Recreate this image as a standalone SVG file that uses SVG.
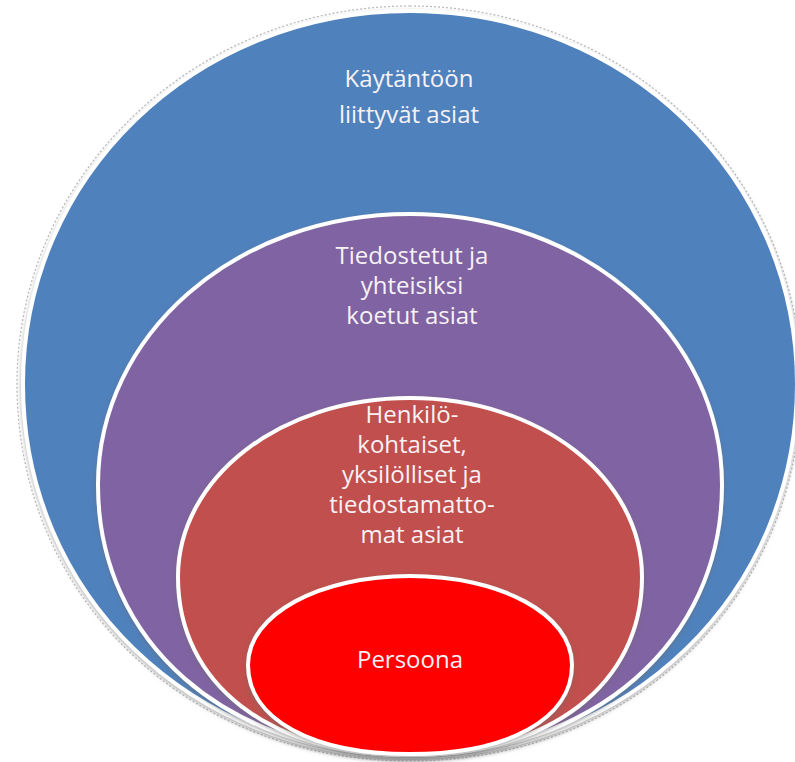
<svg xmlns="http://www.w3.org/2000/svg" width="795" height="762" viewBox="0 0 795 762">
<defs>
<style>
.shape{stroke:#ffffff;stroke-width:4;filter:url(#sh)}
.lbl{font-family:"Open Sans","Noto Sans","Liberation Sans",sans-serif;font-size:24px;fill:#f7f2f5;text-anchor:middle}
</style>
<filter id="sh" x="-5%" y="-5%" width="110%" height="112%">
<feDropShadow dx="0" dy="2" stdDeviation="2" flood-color="#6b6b6b" flood-opacity="0.55"/>
</filter>
</defs>
<rect width="795" height="762" fill="#ffffff"/>
<g id="outer-rim">
<path d="M410,6 C625,6 801,175 801,384 C801,596 634,761 410,761 C186,761 17,596 17,384 C17,175 195,6 410,6 Z" fill="none" stroke="#9a9a9a" stroke-width="1.2" stroke-dasharray="2 2" opacity="0.7"/>
</g>
<g id="node-kaytanto">
<path class="shape" fill="#4f81bd" d="M410,11 C627,11 797,178 797,384 C797,593 630,757 410,757 C190,757 23,593 23,384 C23,178 193,11 410,11 Z"/>
<text class="lbl" x="409" y="87">Käytäntöön</text>
<text class="lbl" x="409" y="123">liittyvät asiat</text>
</g>
<g id="node-tiedostetut">
<path class="shape" fill="#8064a2" d="M410,214 C585,214 722,335 722,485 C722,642 594,755 410,755 C226,755 98,642 98,485 C98,335 235,214 410,214 Z"/>
<text class="lbl" x="412" y="264">Tiedostetut ja</text>
<text class="lbl" x="412" y="294">yhteisiksi</text>
<text class="lbl" x="412" y="324">koetut asiat</text>
</g>
<g id="node-henkilokohtaiset">
<path class="shape" fill="#c0504d" d="M410,398 C540,398 642,478 642,577 C642,684 551,755 410,755 C269,755 178,684 178,577 C178,478 280,398 410,398 Z"/>
<text class="lbl" x="412" y="423">Henkilö-</text>
<text class="lbl" x="412" y="453">kohtaiset,</text>
<text class="lbl" x="412" y="483">yksilölliset ja</text>
<text class="lbl" x="412" y="513">tiedostamatto-</text>
<text class="lbl" x="412" y="543">mat asiat</text>
</g>
<g id="node-persoona">
<path class="shape" fill="#ff0000" d="M410,576 C500,576 572,614 572,665 C572,719 508,754 410,754 C312,754 248,719 248,665 C248,614 320,576 410,576 Z"/>
<text class="lbl" x="410" y="668">Persoona</text>
</g>
<g id="connectors"/>
</svg>
